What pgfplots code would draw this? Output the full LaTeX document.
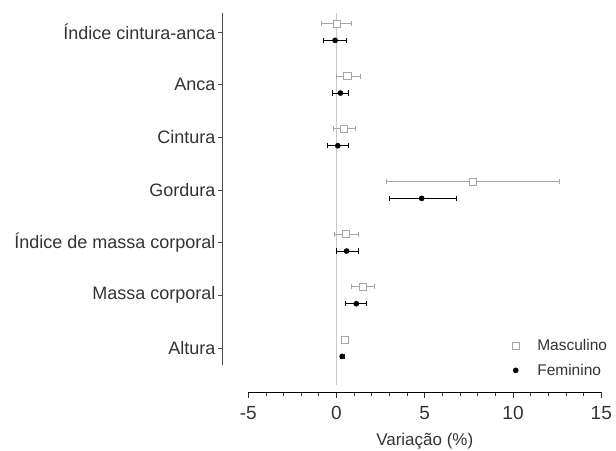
\documentclass[border=0pt]{standalone}
\usepackage{fontspec}
\setmainfont{Liberation Sans}
\usepackage{pgfplots}
\pgfplotsset{compat=1.18}
\definecolor{mgray}{HTML}{A6A6A6}
\definecolor{zgray}{HTML}{C8C8C8}
\definecolor{txt}{HTML}{333333}
\begin{document}
\begin{tikzpicture}
\path[use as bounding box] (0pt,0pt) rectangle (616pt,450pt);
\begin{axis}[at={(222pt,85pt)}, anchor=south west, scale only axis,
  width=380pt, height=352pt,
  xmin=-6.5, xmax=15, ymin=-0.323, ymax=6.36,
  axis x line=none, axis y line*=left,
  y axis line style={black!70, line width=0.9pt},
  ytick={0,...,6},
  yticklabels={Altura, Massa corporal, Índice de massa corporal, Gordura, Cintura, Anca, Índice cintura-anca},
  tick align=outside, major tick length=4pt,
  every tick/.style={black!70, line width=0.8pt},
  yticklabel style={font=\fontsize{18}{20}\selectfont, text=txt, xshift=1pt},
  clip=false,
  legend style={draw=none, fill=none, at={(0.755,0.085)}, anchor=north west,
    font=\fontsize{15.5}{17}\selectfont, text=txt, row sep=8pt,
    /tikz/every odd column/.append style={column sep=16pt}},
  legend cell align=left,
]
\addplot[zgray, line width=0.8pt, forget plot] coordinates {(0,6.36) (0,-0.7)};
\addplot[only marks, mark=square*, mark size=3.6pt, mark options={fill=white, draw=mgray, line width=0.8pt},
  error bars/.cd, x dir=both, x explicit,
  error bar style={mgray, line width=0.9pt},
  error mark options={rotate=90, mark size=2.6pt, mgray, line width=0.9pt}]
coordinates {
(0.0,6.16) -= (0.9,0) += (0.8,0)
(0.6,5.16) -= (0.6,0) += (0.75,0)
(0.4,4.16) -= (0.6,0) += (0.65,0)
(7.7,3.16) -= (4.9,0) += (4.9,0)
(0.5,2.16) -= (0.65,0) += (0.7,0)
(1.45,1.16) -= (0.65,0) += (0.65,0)
(0.45,0.16) -= (0.15,0) += (0.15,0)
};
\addplot[only marks, mark=*, mark size=2.6pt, mark options={fill=black, draw=black},
  error bars/.cd, x dir=both, x explicit,
  error bar style={black, line width=0.9pt},
  error mark options={rotate=90, mark size=2.6pt, black, line width=0.9pt}]
coordinates {
(-0.1,5.84) -= (0.65,0) += (0.65,0)
(0.2,4.84) -= (0.45,0) += (0.45,0)
(0.05,3.84) -= (0.6,0) += (0.6,0)
(4.8,2.84) -= (1.85,0) += (1.95,0)
(0.55,1.84) -= (0.55,0) += (0.65,0)
(1.1,0.84) -= (0.6,0) += (0.6,0)
(0.3,-0.16) -= (0.1,0) += (0.1,0)
};
\legend{Masculino, Feminino}
\end{axis}
\begin{axis}[at={(248.25pt,58pt)}, anchor=south west, scale only axis,
  width=353pt, height=10pt,
  xmin=-5, xmax=15, ymin=0, ymax=1,
  axis x line*=bottom, hide y axis,
  x axis line style={black, line width=0.9pt},
  xtick={-5,0,5,10,15}, xticklabels={-5,0,5,10,15},
  minor x tick num=4,
  tick align=outside, major tick length=6pt, minor tick length=4pt,
  every tick/.style={black!80, line width=0.8pt},
  xticklabel style={font=\fontsize{19}{20}\selectfont, text=txt, yshift=-5pt},
  xlabel={Variação (\%)},
  xlabel style={font=\fontsize{17}{18}\selectfont, text=txt, yshift=-6pt},
]
\addplot[draw=none] coordinates {(0,0)};
\end{axis}
\end{tikzpicture}
\end{document}
